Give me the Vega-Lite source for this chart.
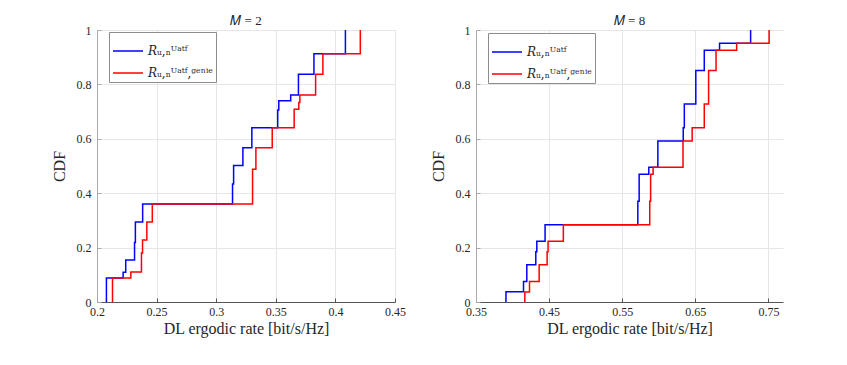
{
  "$schema": "https://vega.github.io/schema/vega-lite/v6.json",
  "padding": {"left": 51, "top": 15, "right": 5, "bottom": 5},
  "background": "white",
  "spacing": 81,
  "bounds": "flush",
  "config": {
    "view": {"stroke": null},
    "font": "Liberation Serif",
    "axis": {
      "labelFont": "Liberation Serif",
      "labelFontSize": 12,
      "labelColor": "#262626",
      "labelFlush": false,
      "titleFont": "Liberation Serif",
      "titleFontSize": 16,
      "titleFontWeight": "normal",
      "titleColor": "#262626",
      "gridColor": "#e6e6e6",
      "gridWidth": 1,
      "tickSize": -4,
      "labelPadding": 10,
      "labelExpr": "format(datum.value, '.2~f')"
    },
    "axisX": {"domainColor": "#555555", "tickColor": "#555555", "labelPadding": 8, "titlePadding": 3},
    "axisY": {"domainColor": "#aaaaaa", "tickColor": "#aaaaaa", "titlePadding": 9},
    "title": {"font": "Liberation Serif", "fontSize": 13, "fontWeight": "normal", "color": "#262626", "offset": -4},
    "legend": {
      "strokeColor": "#8c8c8c",
      "fillColor": "white",
      "padding": 3,
      "symbolType": "M-1,0L1,0",
      "symbolSize": 900,
      "symbolStrokeWidth": 1.5,
      "labelFont": "DejaVu Serif",
      "labelFontSize": 12,
      "labelColor": "#262626",
      "rowPadding": -8,
      "labelLimit": 300
    }
  },
  "data": {"values": [
    {"M": 2, "series": "UatF", "rate": 0.2079, "cdf": 0},
    {"M": 2, "series": "UatF", "rate": 0.2079, "cdf": 0.088},
    {"M": 2, "series": "UatF", "rate": 0.2219, "cdf": 0.109},
    {"M": 2, "series": "UatF", "rate": 0.2241, "cdf": 0.154},
    {"M": 2, "series": "UatF", "rate": 0.2315, "cdf": 0.219},
    {"M": 2, "series": "UatF", "rate": 0.2322, "cdf": 0.294},
    {"M": 2, "series": "UatF", "rate": 0.2383, "cdf": 0.36},
    {"M": 2, "series": "UatF", "rate": 0.3137, "cdf": 0.434},
    {"M": 2, "series": "UatF", "rate": 0.3146, "cdf": 0.502},
    {"M": 2, "series": "UatF", "rate": 0.3224, "cdf": 0.567},
    {"M": 2, "series": "UatF", "rate": 0.3299, "cdf": 0.641},
    {"M": 2, "series": "UatF", "rate": 0.3516, "cdf": 0.706},
    {"M": 2, "series": "UatF", "rate": 0.3525, "cdf": 0.74},
    {"M": 2, "series": "UatF", "rate": 0.3625, "cdf": 0.761},
    {"M": 2, "series": "UatF", "rate": 0.369, "cdf": 0.837},
    {"M": 2, "series": "UatF", "rate": 0.382, "cdf": 0.913},
    {"M": 2, "series": "UatF", "rate": 0.4084, "cdf": 1},
    {"M": 2, "series": "UatF,genie", "rate": 0.213, "cdf": 0},
    {"M": 2, "series": "UatF,genie", "rate": 0.213, "cdf": 0.088},
    {"M": 2, "series": "UatF,genie", "rate": 0.2284, "cdf": 0.11},
    {"M": 2, "series": "UatF,genie", "rate": 0.2373, "cdf": 0.18},
    {"M": 2, "series": "UatF,genie", "rate": 0.2382, "cdf": 0.228},
    {"M": 2, "series": "UatF,genie", "rate": 0.2418, "cdf": 0.294},
    {"M": 2, "series": "UatF,genie", "rate": 0.2464, "cdf": 0.36},
    {"M": 2, "series": "UatF,genie", "rate": 0.3305, "cdf": 0.488},
    {"M": 2, "series": "UatF,genie", "rate": 0.3333, "cdf": 0.567},
    {"M": 2, "series": "UatF,genie", "rate": 0.347, "cdf": 0.641},
    {"M": 2, "series": "UatF,genie", "rate": 0.3654, "cdf": 0.709},
    {"M": 2, "series": "UatF,genie", "rate": 0.3693, "cdf": 0.733},
    {"M": 2, "series": "UatF,genie", "rate": 0.3702, "cdf": 0.761},
    {"M": 2, "series": "UatF,genie", "rate": 0.3834, "cdf": 0.837},
    {"M": 2, "series": "UatF,genie", "rate": 0.3895, "cdf": 0.913},
    {"M": 2, "series": "UatF,genie", "rate": 0.4209, "cdf": 1},
    {"M": 8, "series": "UatF", "rate": 0.391, "cdf": 0},
    {"M": 8, "series": "UatF", "rate": 0.391, "cdf": 0.038},
    {"M": 8, "series": "UatF", "rate": 0.415, "cdf": 0.075},
    {"M": 8, "series": "UatF", "rate": 0.4195, "cdf": 0.137},
    {"M": 8, "series": "UatF", "rate": 0.4318, "cdf": 0.185},
    {"M": 8, "series": "UatF", "rate": 0.4332, "cdf": 0.223},
    {"M": 8, "series": "UatF", "rate": 0.4445, "cdf": 0.284},
    {"M": 8, "series": "UatF", "rate": 0.5714, "cdf": 0.37},
    {"M": 8, "series": "UatF", "rate": 0.5732, "cdf": 0.47},
    {"M": 8, "series": "UatF", "rate": 0.5864, "cdf": 0.495},
    {"M": 8, "series": "UatF", "rate": 0.5988, "cdf": 0.592},
    {"M": 8, "series": "UatF", "rate": 0.6335, "cdf": 0.641},
    {"M": 8, "series": "UatF", "rate": 0.635, "cdf": 0.728},
    {"M": 8, "series": "UatF", "rate": 0.6507, "cdf": 0.851},
    {"M": 8, "series": "UatF", "rate": 0.6623, "cdf": 0.926},
    {"M": 8, "series": "UatF", "rate": 0.6832, "cdf": 0.951},
    {"M": 8, "series": "UatF", "rate": 0.7257, "cdf": 1},
    {"M": 8, "series": "UatF,genie", "rate": 0.4168, "cdf": 0},
    {"M": 8, "series": "UatF,genie", "rate": 0.4168, "cdf": 0.037},
    {"M": 8, "series": "UatF,genie", "rate": 0.4232, "cdf": 0.075},
    {"M": 8, "series": "UatF,genie", "rate": 0.4364, "cdf": 0.137},
    {"M": 8, "series": "UatF,genie", "rate": 0.4473, "cdf": 0.185},
    {"M": 8, "series": "UatF,genie", "rate": 0.4486, "cdf": 0.223},
    {"M": 8, "series": "UatF,genie", "rate": 0.4695, "cdf": 0.284},
    {"M": 8, "series": "UatF,genie", "rate": 0.5877, "cdf": 0.37},
    {"M": 8, "series": "UatF,genie", "rate": 0.5889, "cdf": 0.47},
    {"M": 8, "series": "UatF,genie", "rate": 0.5923, "cdf": 0.495},
    {"M": 8, "series": "UatF,genie", "rate": 0.6332, "cdf": 0.592},
    {"M": 8, "series": "UatF,genie", "rate": 0.6457, "cdf": 0.641},
    {"M": 8, "series": "UatF,genie", "rate": 0.6623, "cdf": 0.728},
    {"M": 8, "series": "UatF,genie", "rate": 0.6682, "cdf": 0.851},
    {"M": 8, "series": "UatF,genie", "rate": 0.6784, "cdf": 0.926},
    {"M": 8, "series": "UatF,genie", "rate": 0.7066, "cdf": 0.951},
    {"M": 8, "series": "UatF,genie", "rate": 0.751, "cdf": 1}
  ]},
  "resolve": {
    "scale": {"x": "independent", "y": "independent", "color": "independent"},
    "axis": {"x": "independent", "y": "independent"},
    "legend": {"color": "independent"}
  },
  "hconcat": [
    {
      "title": {"text": "𝑀 = 2"},
      "width": 298,
      "height": 272,
      "transform": [{"filter": "datum.M == 2"}],
      "mark": {"type": "line", "interpolate": "step-after", "strokeWidth": 1.5},
      "encoding": {
        "x": {"field": "rate", "type": "quantitative", "title": "DL ergodic rate [bit/s/Hz]",
              "scale": {"domain": [0.2, 0.45], "nice": false, "zero": false},
              "axis": {"values": [0.2, 0.25, 0.3, 0.35, 0.4, 0.45]}},
        "y": {"field": "cdf", "type": "quantitative", "title": "CDF",
              "scale": {"domain": [0, 1], "nice": false},
              "axis": {"values": [0, 0.2, 0.4, 0.6, 0.8, 1]}},
        "color": {"field": "series", "type": "nominal",
                  "scale": {"domain": ["UatF", "UatF,genie"], "range": ["#0000ff", "#ff0000"]},
                  "legend": {"title": null, "orient": "none", "legendX": 12, "legendY": 2,
                             "labelExpr": "datum.label == 'UatF' ? '𝑅ᵤ,ₙᵁᵃᵗᶠ' : '𝑅ᵤ,ₙᵁᵃᵗᶠ,ᵍᵉⁿⁱᵉ'"}},
        "order": {"field": "cdf", "type": "quantitative"}
      }
    },
    {
      "title": {"text": "𝑀 = 8"},
      "width": 307,
      "height": 272,
      "transform": [{"filter": "datum.M == 8"}],
      "mark": {"type": "line", "interpolate": "step-after", "strokeWidth": 1.5},
      "encoding": {
        "x": {"field": "rate", "type": "quantitative", "title": "DL ergodic rate [bit/s/Hz]",
              "scale": {"domain": [0.35, 0.77], "nice": false, "zero": false},
              "axis": {"values": [0.35, 0.45, 0.55, 0.65, 0.75]}},
        "y": {"field": "cdf", "type": "quantitative", "title": "CDF",
              "scale": {"domain": [0, 1], "nice": false},
              "axis": {"values": [0, 0.2, 0.4, 0.6, 0.8, 1]}},
        "color": {"field": "series", "type": "nominal",
                  "scale": {"domain": ["UatF", "UatF,genie"], "range": ["#0000ff", "#ff0000"]},
                  "legend": {"title": null, "orient": "none", "legendX": 12, "legendY": 3,
                             "labelExpr": "datum.label == 'UatF' ? '𝑅ᵤ,ₙᵁᵃᵗᶠ' : '𝑅ᵤ,ₙᵁᵃᵗᶠ,ᵍᵉⁿⁱᵉ'"}},
        "order": {"field": "cdf", "type": "quantitative"}
      }
    }
  ]
}
